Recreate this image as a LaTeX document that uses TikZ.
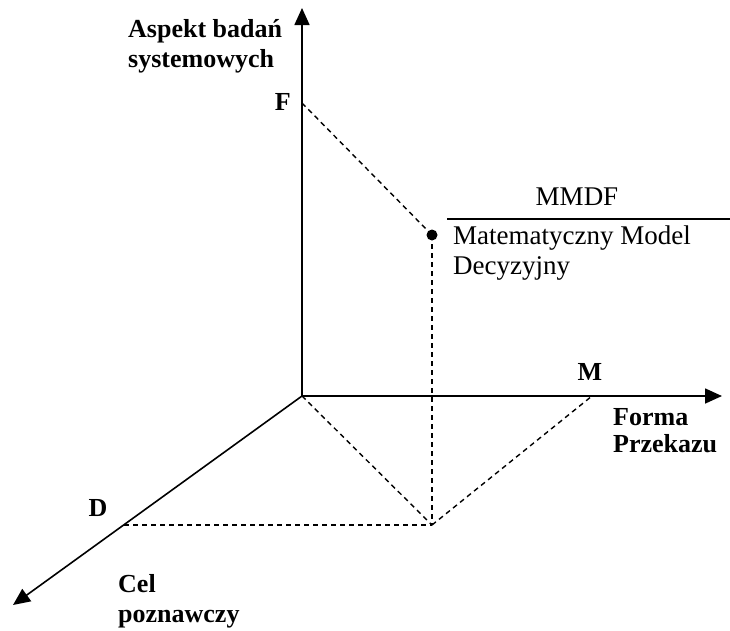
\documentclass[tikz,border=0pt]{standalone}
\usepackage{fontspec}
\setmainfont{Liberation Serif}
\usepackage{tikz}
\usetikzlibrary{arrows.meta}

\begin{document}
\begin{tikzpicture}[x=1pt,y=-1pt,
    axis/.style={line width=1.6pt,-{Triangle[length=17pt,width=15pt]}},
    guide/.style={dashed,line width=1.4pt,dash pattern=on 5pt off 4pt},
    lab/.style={inner sep=0pt,font=\fontsize{26}{30}\selectfont\bfseries},
    model/.style={inner sep=0pt,font=\fontsize{27}{30}\selectfont}]
    \useasboundingbox (0,0) rectangle (730,630);
    % Osie
    \coordinate (O) at (302,396);
    \coordinate (ztop) at (302,8);
    \coordinate (xend) at (722,396);
    \coordinate (yend) at (13,605);
    \draw[axis] (O) -- (ztop);
    \draw[axis] (O) -- (xend);
    \draw[axis] (O) -- (yend);
    % Punkty
    \coordinate (F) at (302,103);
    \coordinate (M) at (592,396);
    \coordinate (D) at (124,525);
    \coordinate (Q) at (432,525);
    \node[circle,fill,inner sep=0pt,minimum size=11pt] (P) at (432,235) {};
    \draw[guide] (F) -- (P.center);
    \draw[guide] (P.center) -- (Q);
    \draw[guide] (D) -- (Q);
    \draw[guide] (O) -- (Q);
    \draw[guide] (Q) -- (M);
    % Opisy
    \node[lab,anchor=west,align=left] (aspekt) at (128,46) {Aspekt badań\\systemowych};
    \node[lab,anchor=east] (flab) at (291,102) {F};
    \node[lab] (mlab) at (590,372) {M};
    \node[lab] (dlab) at (98,508) {D};
    \node[lab,anchor=west,align=left] (cel) at (118,601) {Cel\\poznawczy};
    \node[lab,anchor=west,align=left,font=\fontsize{26}{27}\selectfont\bfseries] (forma) at (613,431) {Forma\\Przekazu};
    \node[model] (mmdf) at (577,197) {MMDF};
    \coordinate (kreskaA) at (447,219);
    \coordinate (kreskaB) at (730,219);
    \draw[line width=1.2pt] (kreskaA) -- (kreskaB);
    \node[model,anchor=west,align=left] (opis) at (453,253) {Matematyczny Model\\Decyzyjny};
\end{tikzpicture}
\end{document}
